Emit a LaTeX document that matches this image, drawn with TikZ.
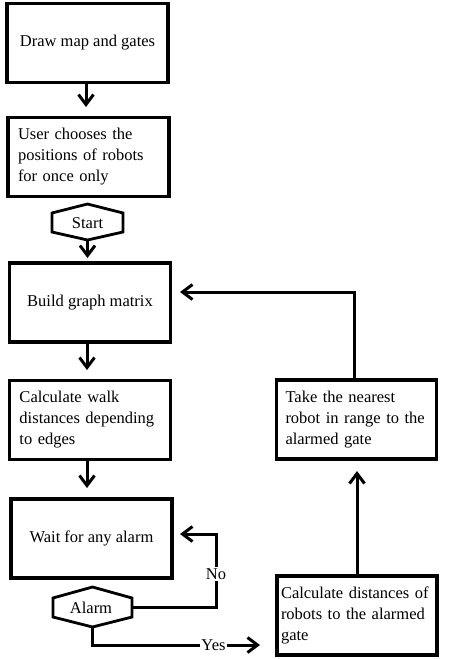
\documentclass[tikz,border=0pt]{standalone}
\usepackage{fontspec}
\setmainfont{Liberation Serif}
\usetikzlibrary{arrows.meta}
\begin{document}
\begin{tikzpicture}[x=1pt,y=-1pt,
  every node/.style={font=\fontsize{16.5}{21}\selectfont, text=black},
  stepbox/.style={draw=black, line width=3.2pt, minimum width=161pt, minimum height=79pt, inner sep=0pt, align=left, text width=141pt},
  onebox/.style={draw=black, line width=3.2pt, minimum width=161pt, minimum height=79pt, inner sep=0pt, align=center},
  hexa/.style={draw=black, line width=2.8pt, line join=miter},
  flow/.style={draw=black, line width=3pt},
  arr/.style={flow, -{Straight Barb[length=10pt,width=15pt,line width=3pt]}},
  lbl/.style={fill=white, inner sep=1.5pt}]
\useasboundingbox (0,0) rectangle (451,659);

% boxes
\node[onebox] (b1) at (87.5,43) {Draw map and gates};
\node[stepbox] (b2) at (88.5,157) {User chooses the\\positions of robots\\for once only};
\node[onebox] (b3) at (90,302.5) {Build graph matrix};
\node[stepbox] (b4) at (90,420) {Calculate walk\\distances depending\\to edges};
\node[onebox] (b5) at (91.5,538.5) {Wait for any alarm};
\node[stepbox, minimum width=160pt, text width=142pt] (take) at (356.5,419.5) {Take the nearest\\robot in range to the\\alarmed gate};
\node[stepbox, minimum width=160pt, text width=152pt] (calc) at (357,615.5) {Calculate distances of\\robots to the alarmed\\gate};

% hexagons
\draw[hexa] (52,213) -- (87.5,204) -- (123,213) -- (123,232) -- (87.5,240) -- (52,232) -- cycle;
\node (start) at (87.5,223) {Start};
\coordinate (startbot) at (87.5,240);
\draw[hexa] (53,598) -- (92.5,587) -- (132,598) -- (132,617) -- (92.5,627) -- (53,617) -- cycle;
\node (alarm) at (91,608) {Alarm};
\coordinate (alarmE) at (132,607);
\coordinate (alarmS) at (92.5,627);

% connectors
\draw[arr] (b1.south -| 86,0) -- (86,107);
\draw[arr] (startbot) -- (87.5,258);
\draw[arr] (87,342) -- (87,370);
\draw[arr] (87,460) -- (87,488);
\draw[arr] (take.north -| 354,0) -- (354,292) -- (180,292);
\draw[arr] (calc.north -| 357,0) -- (357,471);
\draw[arr] (alarmE) -- (216,607) -- (216,534) -- (180,534);
\node[lbl] (no) at (216,574) {No};
\draw[arr] (alarmS) -- (92.5,645) -- (260,645);
\node[lbl] (yes) at (213.5,645) {Yes};
\end{tikzpicture}
\end{document}
